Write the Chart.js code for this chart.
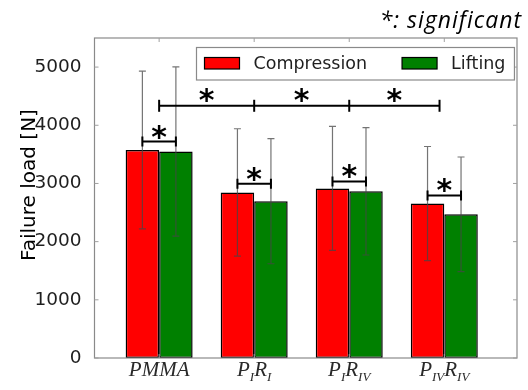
<!DOCTYPE html>
<html>
<head>
<meta charset="utf-8">
<script src="https://cdn.jsdelivr.net/npm/chart.js@4.4.1/dist/chart.umd.min.js"></script>
<style>
  html, body { margin: 0; padding: 0; background: #fff; }
  #wrap { width: 528px; height: 390px; position: relative; }
</style>
</head>
<body>
<div id="wrap"><canvas id="canvas"></canvas></div>
<script>
// values
const categories = ['PMMA', 'P_{I}R_{I}', 'P_{I}R_{IV}', 'P_{IV}R_{IV}']
const compression = [3575, 2845, 2915, 2655]
const lifting = [3550, 2695, 2865, 2470]
const compressionSD = [1355, 1095, 1065, 980]
const liftingSD = [1455, 1075, 1095, 985]
// significance markers
const pairSigY = [3720, 2995, 3035, 2795]
const groupSigY = 4335
const groupSigX = [0, 1, 2, 2.95]
const yTicks = [0, 1000, 2000, 3000, 4000, 5000]

const FRAME = '#8a8a8a'
const TEXT = '#1e1e1e'

function drawStar(ctx, x, cy) {
  ctx.save()
  ctx.font = 'bold 30px "DejaVu Sans"'
  ctx.fillStyle = '#000'
  ctx.textAlign = 'center'
  ctx.textBaseline = 'alphabetic'
  var m = ctx.measureText('*')
  var base = cy - (m.actualBoundingBoxDescent - m.actualBoundingBoxAscent) / 2
  ctx.fillText('*', x, base)
  ctx.restore()
}

function bracket(ctx, x1, x2, y, cap) {
  ctx.beginPath()
  ctx.moveTo(x1, y); ctx.lineTo(x2, y)
  ctx.moveTo(x1, y - cap); ctx.lineTo(x1, y + cap)
  ctx.moveTo(x2, y - cap); ctx.lineTo(x2, y + cap)
  ctx.stroke()
}

// draws "P_{I}R_{IV}" style labels with subscripts
function mathLabel(ctx, label, cx, base) {
  var parts = []
  label.replace(/([^_]+?)(?:_\{([^}]*)\})?(?=[A-Z]|$)/g, function (m, a, b) {
    parts.push([a, false]); if (b) parts.push([b, true])
  })
  var main = 'italic 21px "Liberation Serif"', sub = 'italic 13px "Liberation Serif"'
  var w = 0
  parts.forEach(function (p) { ctx.font = p[1] ? sub : main; w += ctx.measureText(p[0]).width })
  var x = cx - w / 2
  ctx.fillStyle = '#2a2a2a'
  ctx.textAlign = 'left'
  ctx.textBaseline = 'alphabetic'
  parts.forEach(function (p) {
    ctx.font = p[1] ? sub : main
    ctx.fillText(p[0], x, p[1] ? base + 5 : base)
    x += ctx.measureText(p[0]).width
  })
}

const extras = {
  id: 'extras',
  afterDatasetsDraw: function (chart) {
    var ctx = chart.ctx, xs = chart.scales.x, ys = chart.scales.y, a = chart.chartArea
    ctx.save()
    // error bars
    ctx.strokeStyle = 'rgba(70,70,70,0.75)'
    ctx.lineWidth = 1.2
    var sds = [compressionSD, liftingSD]
    chart.data.datasets.forEach(function (ds, di) {
      chart.getDatasetMeta(di).data.forEach(function (bar, i) {
        var v = ds.data[i].y, s = sds[di][i]
        var top = ys.getPixelForValue(v + s), bot = ys.getPixelForValue(v - s)
        ctx.beginPath()
        ctx.moveTo(bar.x, top); ctx.lineTo(bar.x, bot)
        ctx.moveTo(bar.x - 3.5, top); ctx.lineTo(bar.x + 3.5, top)
        ctx.moveTo(bar.x - 3.5, bot); ctx.lineTo(bar.x + 3.5, bot)
        ctx.stroke()
      })
    })
    // pair brackets
    ctx.strokeStyle = '#000'
    ctx.lineWidth = 2
    var m0 = chart.getDatasetMeta(0).data, m1 = chart.getDatasetMeta(1).data
    pairSigY.forEach(function (v, i) {
      var y = ys.getPixelForValue(v)
      bracket(ctx, m0[i].x, m1[i].x, y, 5)
      drawStar(ctx, (m0[i].x + m1[i].x) / 2, y - 9.5)
    })
    // group bracket
    var gy = ys.getPixelForValue(groupSigY)
    ctx.beginPath()
    ctx.moveTo(xs.getPixelForValue(groupSigX[0]), gy)
    ctx.lineTo(xs.getPixelForValue(groupSigX[groupSigX.length - 1]), gy)
    ctx.stroke()
    groupSigX.forEach(function (g, i) {
      var x = xs.getPixelForValue(g)
      ctx.beginPath(); ctx.moveTo(x, gy - 6); ctx.lineTo(x, gy + 6); ctx.stroke()
      if (i > 0) drawStar(ctx, (x + xs.getPixelForValue(groupSigX[i - 1])) / 2, gy - 10)
    })

    // frame and inward ticks
    ctx.strokeStyle = FRAME
    ctx.lineWidth = 1.2
    ctx.strokeRect(a.left, a.top, a.right - a.left, a.bottom - a.top)
    ctx.lineWidth = 1
    ctx.strokeStyle = '#a0a0a0'
    ctx.beginPath()
    yTicks.forEach(function (t) {
      var y = ys.getPixelForValue(t)
      ctx.moveTo(a.left, y); ctx.lineTo(a.left + 4, y)
      ctx.moveTo(a.right, y); ctx.lineTo(a.right - 4, y)
    })
    categories.forEach(function (c, i) {
      var x = xs.getPixelForValue(i)
      ctx.moveTo(x, a.top); ctx.lineTo(x, a.top + 4)
      ctx.moveTo(x, a.bottom); ctx.lineTo(x, a.bottom - 4)
    })
    ctx.stroke()

    // category labels
    categories.forEach(function (c, i) {
      mathLabel(ctx, c, xs.getPixelForValue(i), 376)
    })

    // legend
    ctx.font = '17.5px "DejaVu Sans"'
    var x = a.left + 110, items = []
    chart.data.datasets.forEach(function (ds) {
      items.push([x, ds])
      x += 49 + ctx.measureText(ds.label).width + 35
    })
    var lx = a.left + 102, ly = 47.5, lw = x - 35 + 9 - lx, lh = 32.5
    ctx.fillStyle = '#fff'
    ctx.fillRect(lx, ly, lw, lh)
    ctx.strokeStyle = FRAME
    ctx.lineWidth = 1.2
    ctx.strokeRect(lx, ly, lw, lh)
    items.forEach(function (it) {
      ctx.fillStyle = it[1].backgroundColor
      ctx.fillRect(it[0], 57.5, 35, 11.5)
      ctx.strokeStyle = '#000'
      ctx.lineWidth = 1.2
      ctx.strokeRect(it[0], 57.5, 35, 11.5)
      ctx.fillStyle = TEXT
      ctx.textAlign = 'left'
      ctx.textBaseline = 'middle'
      ctx.fillText(it[1].label, it[0] + 49, 64)
    })

    // axis title
    ctx.save()
    ctx.translate(35, 185)
    ctx.rotate(-Math.PI / 2)
    ctx.font = '20px "DejaVu Sans"'
    ctx.fillStyle = '#000'
    ctx.textAlign = 'center'
    ctx.textBaseline = 'alphabetic'
    ctx.fillText('Failure load [N]', 0, 0)
    ctx.restore()

    // note in the top corner
    ctx.font = 'italic 23px "Open Sans"'
    ctx.letterSpacing = '1px'
    ctx.fillStyle = '#000'
    ctx.textAlign = 'right'
    ctx.textBaseline = 'alphabetic'
    ctx.fillText('*: significant', 522, 28)
    ctx.letterSpacing = '0px'
    ctx.restore()
  }
}

var ctx = document.getElementById('canvas').getContext('2d')
var chart = new Chart(ctx, {
  type: 'bar',
  data: {
    datasets: [{
      label: 'Compression',
      backgroundColor: '#ff0000',
      borderColor: '#000',
      borderWidth: 1.5,
      borderSkipped: false,
      data: compression.map(function (v, i) { return { x: i, y: v } })
    }, {
      label: 'Lifting',
      backgroundColor: '#008000',
      borderColor: '#000',
      borderWidth: 1.5,
      borderSkipped: false,
      data: lifting.map(function (v, i) { return { x: i, y: v } })
    }]
  },
  options: {
    responsive: true,
    maintainAspectRatio: false,
    animation: false,
    categoryPercentage: 0.705,
    barPercentage: 1,
    layout: { padding: { top: 38, right: 11, left: 0, bottom: 0 } },
    plugins: { legend: { display: false }, tooltip: { enabled: false } },
    scales: {
      x: {
        type: 'linear',
        offset: false,
        min: -0.68,
        max: 3.765,
        grid: { display: false, offset: false },
        border: { display: false },
        ticks: { display: false },
        afterBuildTicks: function (s) {
          s.ticks = categories.map(function (c, i) { return { value: i } })
        },
        afterFit: function (s) { s.height = 32 }
      },
      y: {
        min: 0,
        max: 5500,
        grid: { display: false },
        border: { display: false },
        ticks: {
          padding: 5,
          color: TEXT,
          font: { family: 'DejaVu Sans', size: 18.5 },
          callback: function (v) { return String(v) }
        },
        afterBuildTicks: function (s) {
          s.ticks = yTicks.map(function (v) { return { value: v } })
        },
        afterFit: function (s) { s.width = 94.5 }
      }
    }
  },
  plugins: [extras]
})
</script>
</body>
</html>
